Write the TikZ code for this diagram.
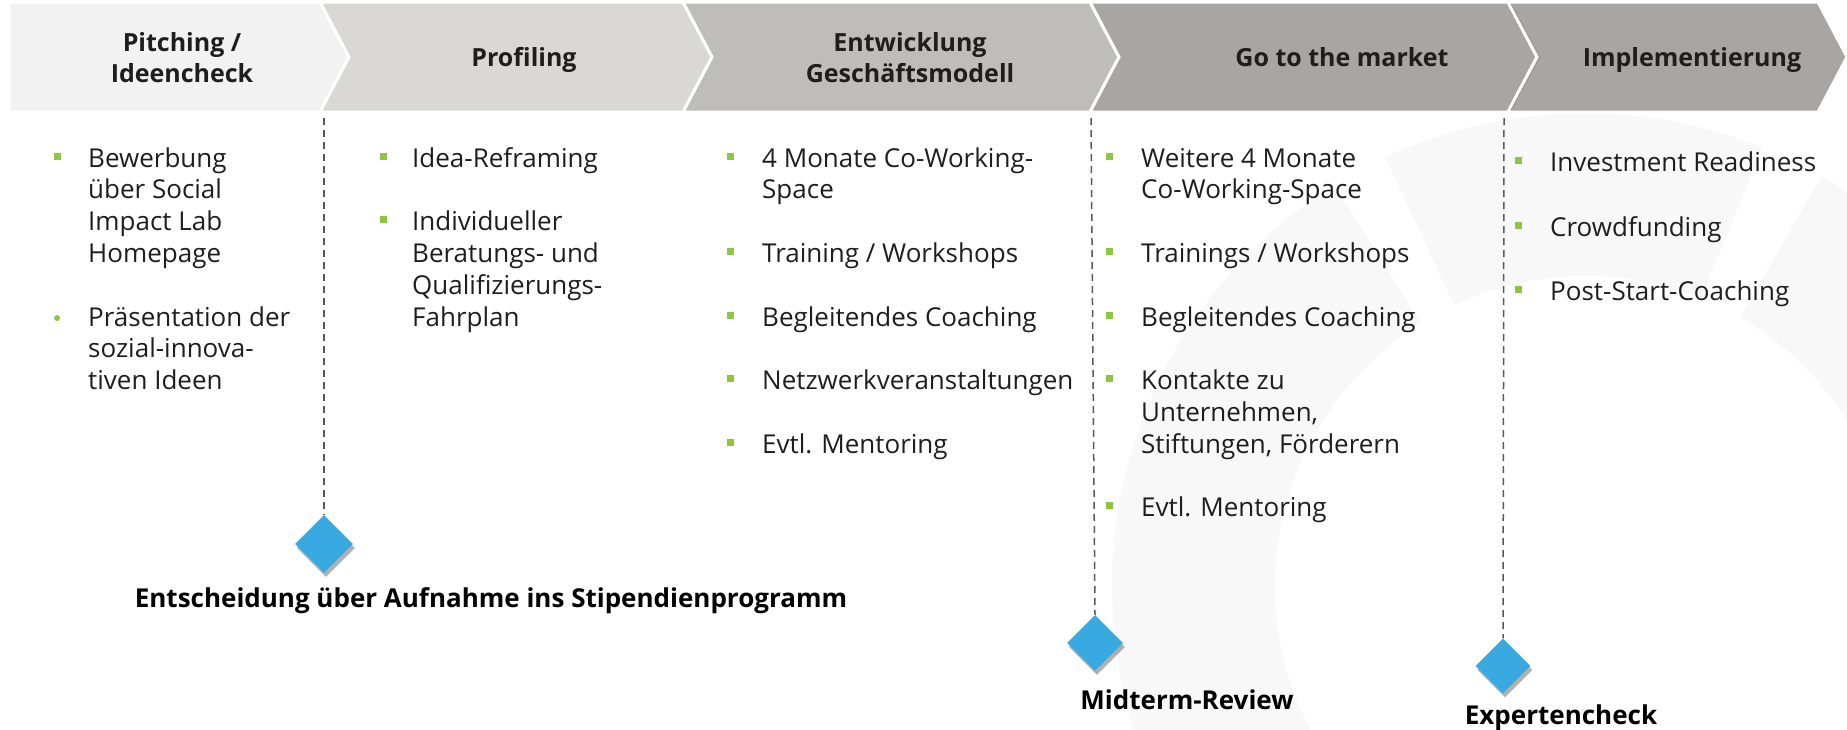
\documentclass[tikz,border=0pt]{standalone}
\usepackage{fontspec}
\setmainfont{Open Sans}
\usetikzlibrary{shapes.geometric,shadows}
\definecolor{bgreen}{HTML}{8DC63F}
\definecolor{dblue}{HTML}{38A9E1}
\definecolor{chA}{HTML}{F2F2F2}
\definecolor{chB}{HTML}{D9D8D6}
\definecolor{chC}{HTML}{BFBDBB}
\definecolor{chD}{HTML}{A8A5A3}
\definecolor{txt}{HTML}{1E1E1E}
\definecolor{wm}{HTML}{F8F8F8}
\newcommand{\mlines}[1]{\begin{tabular}[t]{@{}l@{}}#1\end{tabular}}
\newcommand{\clines}[1]{\begin{tabular}[t]{@{}c@{}}#1\end{tabular}}
\tikzset{
  chev/.style={draw=white, line width=3pt, line join=miter},
  head/.style={font=\fontsize{25}{31}\selectfont\bfseries, text=txt, inner sep=0pt, anchor=base},
  item/.style={font=\fontsize{26}{31.8}\selectfont, text=txt, inner sep=0pt, anchor=base west},
  sq/.style={rectangle, fill=bgreen, minimum size=7pt, inner sep=0pt},
  rdot/.style={circle, fill=bgreen, minimum size=6pt, inner sep=0pt},
  dashline/.style={draw=black!65, line width=1.5pt, dash pattern=on 7pt off 5pt},
  milestone/.style={diamond, fill=dblue, minimum width=58pt, minimum height=58pt, inner sep=0pt,
    drop shadow={shadow xshift=2pt, shadow yshift=-4pt, opacity=0.3, fill=black}},
  mlabel/.style={font=\fontsize{26}{30}\selectfont\bfseries, text=black, inner sep=0pt, anchor=base}
}
\begin{document}
\begin{tikzpicture}[x=1pt,y=-1pt]
\useasboundingbox (0,0) rectangle (1847,729);
% faint watermark ring
\begin{scope}
\clip (0,114) rectangle (1847,729);
\fill[wm] ([shift={(1585,586)}]-122:473) arc[start angle=-122,end angle=-215,radius=473]
  -- ([shift={(1585,586)}]-215:310) arc[start angle=-215,end angle=-122,radius=310] -- cycle;
\fill[wm] ([shift={(1585,586)}]-115:473) arc[start angle=-115,end angle=-68,radius=473]
  -- ([shift={(1585,586)}]-68:310) arc[start angle=-68,end angle=-115,radius=310] -- cycle;
\fill[wm] ([shift={(1585,586)}]-60:473) arc[start angle=-60,end angle=30,radius=473]
  -- ([shift={(1585,586)}]30:310) arc[start angle=30,end angle=-60,radius=310] -- cycle;
\end{scope}
% chevrons
\fill[chA, chev] (9,2) -- (320,2) -- (349,57) -- (320,112) -- (9,112) -- cycle;
\fill[chB, chev] (320,2) -- (683,2) -- (712,57) -- (683,112) -- (320,112) -- (349,57) -- cycle;
\fill[chC, chev] (683,2) -- (1090,2) -- (1119,57) -- (1090,112) -- (683,112) -- (712,57) -- cycle;
\fill[chD, chev] (1090,2) -- (1508,2) -- (1537,57) -- (1508,112) -- (1090,112) -- (1119,57) -- cycle;
\fill[chD, chev] (1508,2) -- (1818,2) -- (1847,57) -- (1818,112) -- (1508,112) -- (1537,57) -- cycle;
\draw[black!40, line width=1pt] (1511,4) -- (1540,57) -- (1511,110);
% header titles
\node[head] (h1) at (182,51) {\clines{Pitching /\\Ideencheck}};
\node[head] (h2) at (524,66) {Profiling};
\node[head] (h3) at (910,51) {\clines{Entwicklung\\Geschäftsmodell}};
\node[head] (h4) at (1342,66) {Go to the market};
\node[head] (h5) at (1692,66) {Implementierung};
% column 1
\node[sq] (b11) at (57,156) {};
\node[item] (t11) at (88,167) {\mlines{Bewerbung\\über Social\\Impact Lab\\Homepage}};
\node[rdot] (b12) at (57,318) {};
\node[item] (t12) at (88,326) {\mlines{Präsentation der\\sozial-innova-\\tiven Ideen}};
% column 2
\node[sq] (b21) at (383,156) {};
\node[item] (t21) at (412,167) {Idea-Reframing};
\node[sq] (b22) at (383,219.6) {};
\node[item] (t22) at (412,230.6) {\mlines{Individueller\\Beratungs- und\\Qualifizierungs-\\Fahrplan}};
% column 3
\node[sq] (b31) at (730,156) {};
\node[item] (t31) at (762,167) {\mlines{4 Monate Co-Working-\\Space}};
\node[sq] (b32) at (730,251.4) {};
\node[item] (t32) at (762,262.4) {Training / Workshops};
\node[sq] (b33) at (730,315) {};
\node[item] (t33) at (762,326) {Begleitendes Coaching};
\node[sq] (b34) at (730,378.6) {};
\node[item] (t34) at (762,389.6) {Netzwerkveranstaltungen};
\node[sq] (b35) at (730,442.2) {};
\node[item] (t35) at (762,453.2) {Evtl. Mentoring};
% column 4
\node[sq] (b41) at (1109,156) {};
\node[item] (t41) at (1141,167) {\mlines{Weitere 4 Monate\\Co-Working-Space}};
\node[sq] (b42) at (1109,251.4) {};
\node[item] (t42) at (1141,262.4) {Trainings / Workshops};
\node[sq] (b43) at (1109,315) {};
\node[item] (t43) at (1141,326) {Begleitendes Coaching};
\node[sq] (b44) at (1109,378.6) {};
\node[item] (t44) at (1141,389.6) {\mlines{Kontakte zu\\Unternehmen,\\Stiftungen, Förderern}};
\node[sq] (b45) at (1109,505.8) {};
\node[item] (t45) at (1141,516.8) {Evtl. Mentoring};
% column 5
\node[sq] (b51) at (1518,160) {};
\node[item] (t51) at (1550,171) {Investment Readiness};
\node[sq] (b52) at (1518,225) {};
\node[item] (t52) at (1550,236) {Crowdfunding};
\node[sq] (b53) at (1518,289) {};
\node[item] (t53) at (1550,300) {Post-Start-Coaching};
% milestones
\coordinate (top1) at (324,118);
\coordinate (top2) at (1091,118);
\coordinate (top3) at (1504,118);
\node[milestone] (d1) at (324,544) {};
\node[milestone, minimum width=56pt, minimum height=56pt] (d2) at (1095,643) {};
\node[milestone, minimum width=55pt, minimum height=55pt] (d3) at (1503,666) {};
\draw[dashline] (top1) -- (d1.north);
\draw[dashline] (top2) -- (d2.north);
\draw[dashline] (top3) -- (d3.north);
\node[mlabel] (l1) at (491,607) {Entscheidung über Aufnahme ins Stipendienprogramm};
\node[mlabel] (l2) at (1187,709) {Midterm-Review};
\node[mlabel] (l3) at (1561,724) {Expertencheck};
\end{tikzpicture}
\end{document}
